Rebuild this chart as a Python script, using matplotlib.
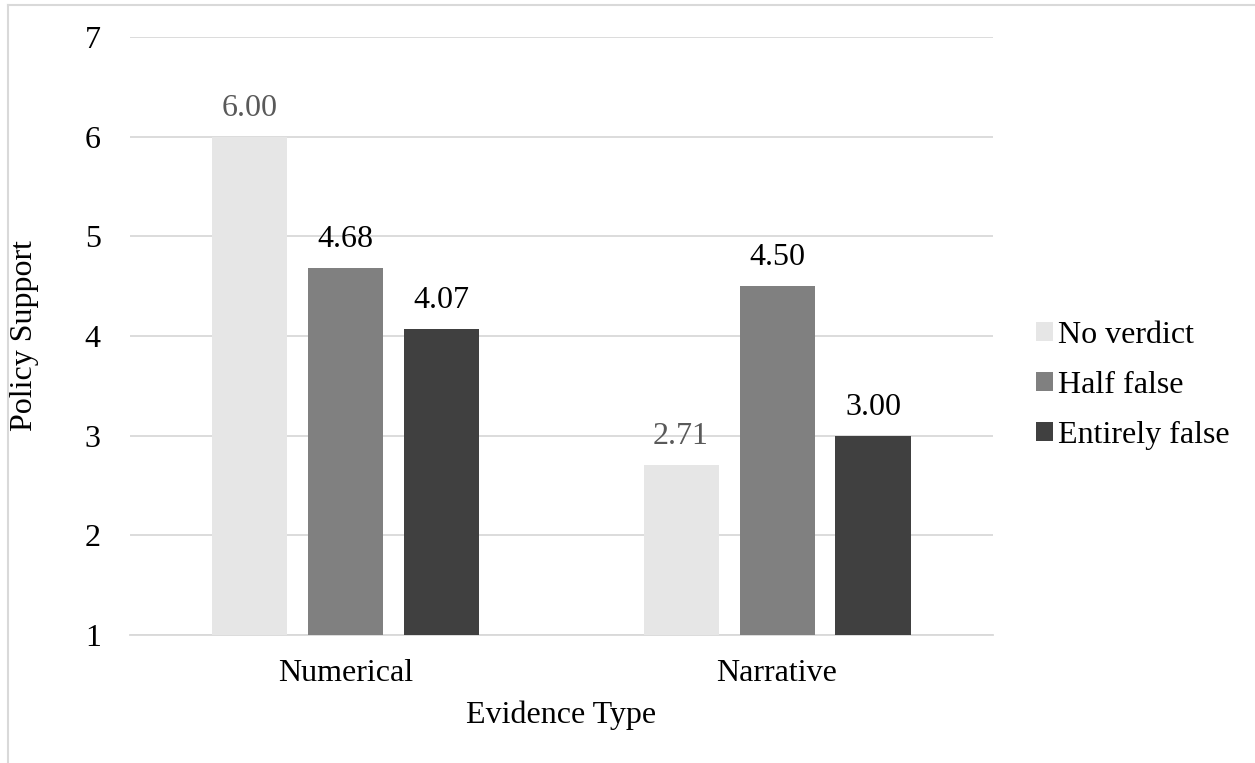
import matplotlib
matplotlib.use("Agg")
import matplotlib.pyplot as plt
from matplotlib.lines import Line2D
from matplotlib.patches import Patch
import numpy as np

categories = ["Numerical", "Narrative"]
series = ["No verdict", "Half false", "Entirely false"]
no_verdict = [6.00, 2.71]
half_false = [4.68, 4.50]
entirely_false = [4.07, 3.00]
values = [no_verdict, half_false, entirely_false]
colors = ["#E6E6E6", "#808080", "#404040"]
label_colors = ["#595959", "#000000", "#000000"]

plt.rcParams["font.family"] = ["Liberation Serif", "DejaVu Serif"]
fs = 23

fig = plt.figure(figsize=(12.55, 7.63), dpi=100)
ax = fig.add_axes([0.1036, 0.1678, 0.6874, 0.7837])

x = np.arange(len(categories))
step = 0.2225
width = 0.174
base = 1
for i, (vals, c, lc) in enumerate(zip(values, colors, label_colors)):
    pos = x + (i - 1) * step
    heights = [v - base for v in vals]
    ax.bar(pos, heights, width, bottom=base, color=c, zorder=3)
    for p, v in zip(pos, vals):
        ax.annotate(f"{v:.2f}", (p, v), textcoords="offset points", xytext=(0, 10),
                    ha="center", va="bottom", fontsize=fs, color=lc, zorder=4)

ax.set_xlim(-0.5, 1.5)
ax.set_ylim(1, 7)
ax.set_yticks(range(1, 8))
ax.set_xticks(x)
ax.set_xticklabels(categories)
ax.tick_params(axis="both", length=0, labelsize=fs, colors="#000000")
ax.tick_params(axis="y", pad=21)
ax.tick_params(axis="x", pad=17)
ax.grid(axis="y", color="#D9D9D9", linewidth=1.3, zorder=0)
for s in ["top", "right", "left"]:
    ax.spines[s].set_visible(False)
ax.spines["bottom"].set_color("#D9D9D9")
ax.spines["bottom"].set_linewidth(1.3)
ax.set_ylabel("Policy Support", fontsize=fs, labelpad=33)
ax.set_xlabel("Evidence Type", fontsize=fs, labelpad=9)

handles = [Patch(facecolor=c, edgecolor="none") for c in colors]
fig.legend(handles, series, loc="center left", bbox_to_anchor=(0.815, 0.495),
           frameon=False, fontsize=fs, handlelength=0.55, handleheight=0.55,
           handletextpad=0.15, labelspacing=0.65, borderaxespad=0)

# partial chart-area border (top and left visible in the reference)
fig.add_artist(Line2D([0.006, 1], [0.994, 0.994], color="#D9D9D9", lw=1.5))
fig.add_artist(Line2D([0.006, 0.006], [0, 0.994], color="#D9D9D9", lw=1.5))

fig.savefig("out.png", dpi=100)
plt.close(fig)
